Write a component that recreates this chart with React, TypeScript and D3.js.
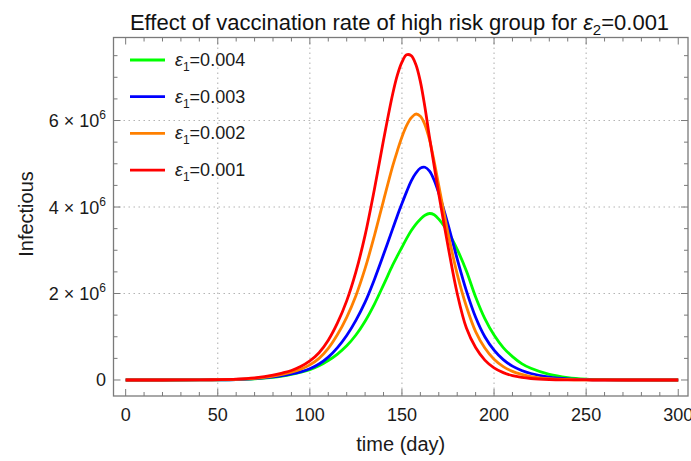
import React from "react";
import * as d3 from "d3";

// time samples (days) shared by every series, denser around the peaks
const days = [
  0, 20, 40, 50, 60, 70, 80, 85, 90, 95,
  100, 105, 110, 115, 120, 125, 130, 135, 140, 145,
  147.5, 150, 152.5, 155, 157.5, 160, 162.5, 165, 167.5, 170,
  175, 180, 185, 190, 195, 200, 205, 210, 215, 220,
  230, 240, 250, 260, 280, 300,
];

// infectious, in millions
const eps004 = [
  0, 0, 0.001, 0.004, 0.01, 0.025, 0.06, 0.09, 0.13, 0.18,
  0.24, 0.33, 0.45, 0.6, 0.79, 1.04, 1.36, 1.75, 2.2, 2.66,
  2.87, 3.07, 3.27, 3.45, 3.6, 3.72, 3.81, 3.85, 3.82, 3.72,
  3.42, 3.02, 2.52, 1.92, 1.42, 1.04, 0.75, 0.54, 0.38, 0.27,
  0.13, 0.057, 0.022, 0.008, 0.001, 0,
];
const eps003 = [
  0, 0, 0.002, 0.005, 0.012, 0.03, 0.07, 0.1, 0.14, 0.19,
  0.26, 0.37, 0.53, 0.75, 1.03, 1.38, 1.8, 2.32, 2.9, 3.5,
  3.8, 4.08, 4.35, 4.6, 4.78, 4.9, 4.92, 4.83, 4.62, 4.32,
  3.6, 2.8, 2.06, 1.45, 1.0, 0.69, 0.47, 0.32, 0.22, 0.15,
  0.065, 0.025, 0.009, 0.003, 0, 0,
];
const eps002 = [
  0, 0, 0.002, 0.006, 0.015, 0.04, 0.09, 0.13, 0.18, 0.25,
  0.35, 0.5, 0.73, 1.05, 1.45, 1.95, 2.58, 3.33, 4.15, 4.95,
  5.3, 5.62, 5.88, 6.06, 6.15, 6.1, 5.9, 5.55, 5.05, 4.5,
  3.4, 2.45, 1.7, 1.12, 0.74, 0.48, 0.31, 0.2, 0.13, 0.08,
  0.03, 0.011, 0.004, 0.001, 0, 0,
];
const eps001 = [
  0, 0, 0.003, 0.008, 0.02, 0.05, 0.11, 0.16, 0.22, 0.31,
  0.44, 0.63, 0.92, 1.32, 1.83, 2.5, 3.35, 4.4, 5.55, 6.62,
  7.05, 7.35, 7.52, 7.5, 7.3, 6.9, 6.3, 5.6, 4.95, 4.3,
  3.1, 2.0, 1.2, 0.75, 0.46, 0.28, 0.17, 0.1, 0.06, 0.035,
  0.012, 0.004, 0.001, 0, 0, 0,
];

const seriesNames = ["0.004", "0.003", "0.002", "0.001"];
const seriesValues = [eps004, eps003, eps002, eps001];
const seriesColors = ["#00ff00", "#0000ff", "#ff8000", "#ff0000"];

const xTicks = [0, 50, 100, 150, 200, 250, 300];
const yTicks = [0, 2, 4, 6];

const W = 691;
const H = 461;
const FONT = "'Liberation Sans', Arial, sans-serif";

export default function App() {
  const x = d3.scaleLinear().domain([-6.6, 305.3]).range([113.5, 688]);
  const y = d3.scaleLinear().domain([-0.37, 7.92]).range([396, 37.5]);
  const [x0, x1] = x.range();
  const [y0, y1] = y.range();

  const line = d3
    .line<number>()
    .x((_, i) => x(days[i]))
    .y((d) => y(d))
    .curve(d3.curveCatmullRom.alpha(0.5));

  // minor ticks every 10 days / half a million
  const xMinor = d3.range(0, 301, 10).filter((v) => v % 50 !== 0);
  const yMinor = d3.range(0, 7.9, 0.5).filter((v) => v % 2 !== 0);

  const frameColor = "#7a7a7a";
  const major = 7;
  const minor = 4;

  return (
    <svg
      width={W}
      height={H}
      style={{ position: "absolute", left: 0, top: 0, background: "#fff" }}
      fontFamily={FONT}
    >
      {/* grid */}
      <g stroke="#b4b4b4" strokeWidth={1.1} strokeDasharray="1.5,3.5">
        {xTicks
          .filter((v) => v > 0 && v < 300)
          .map((v) => (
            <line key={"gx" + v} x1={x(v)} x2={x(v)} y1={y1} y2={y0} />
          ))}
        {yTicks
          .filter((v) => v > 0)
          .map((v) => (
            <line key={"gy" + v} x1={x0} x2={x1} y1={y(v)} y2={y(v)} />
          ))}
      </g>

      {/* curves */}
      <g fill="none" strokeWidth={2.8} strokeLinejoin="round">
        {seriesValues.map((vals, i) => (
          <path key={seriesNames[i]} d={line(vals) || ""} stroke={seriesColors[i]} />
        ))}
      </g>

      {/* frame + ticks */}
      <rect x={x0} y={y1} width={x1 - x0} height={y0 - y1} fill="none" stroke={frameColor} strokeWidth={1.3} />
      <g stroke={frameColor} strokeWidth={1}>
        {xTicks.map((v) => (
          <g key={"tx" + v}>
            <line x1={x(v)} x2={x(v)} y1={y0} y2={y0 - major} />
            <line x1={x(v)} x2={x(v)} y1={y1} y2={y1 + major} />
          </g>
        ))}
        {xMinor.map((v) => (
          <g key={"mx" + v}>
            <line x1={x(v)} x2={x(v)} y1={y0} y2={y0 - minor} />
            <line x1={x(v)} x2={x(v)} y1={y1} y2={y1 + minor} />
          </g>
        ))}
        {yTicks.map((v) => (
          <g key={"ty" + v}>
            <line x1={x0} x2={x0 + major} y1={y(v)} y2={y(v)} />
            <line x1={x1} x2={x1 - major} y1={y(v)} y2={y(v)} />
          </g>
        ))}
        {yMinor.map((v) => (
          <g key={"my" + v}>
            <line x1={x0} x2={x0 + minor} y1={y(v)} y2={y(v)} />
            <line x1={x1} x2={x1 - minor} y1={y(v)} y2={y(v)} />
          </g>
        ))}
      </g>

      {/* tick labels */}
      <g fontSize={18} fill="#1a1a1a">
        {xTicks.map((v) => (
          <text key={"lx" + v} x={x(v)} y={421} textAnchor="middle">
            {v}
          </text>
        ))}
        {yTicks.map((v) =>
          v === 0 ? (
            <text key={"ly" + v} x={106} y={y(v) + 6.5} textAnchor="end">
              0
            </text>
          ) : (
            <text key={"ly" + v} x={106} y={y(v) + 6.5} textAnchor="end">
              {`${v} \u00d7 10`}
              <tspan fontSize={12} dy={-8}>
                6
              </tspan>
            </text>
          )
        )}
      </g>

      {/* axis labels */}
      <text x={(x0 + x1) / 2} y={451} textAnchor="middle" fontSize={20} fill="#1a1a1a">
        time (day)
      </text>
      <text
        transform={`translate(33,214) rotate(-90)`}
        textAnchor="middle"
        fontSize={20}
        fill="#1a1a1a"
      >
        Infectious
      </text>

      {/* title */}
      <text x={399.5} y={30} textAnchor="middle" fontSize={22} fill="#111">
        Effect of vaccination rate of high risk group for{" "}
        <tspan fontStyle="italic">ε</tspan>
        <tspan fontSize={15} dy={5}>
          2
        </tspan>
        <tspan dy={-5}>=0.001</tspan>
      </text>

      {/* legend */}
      <g>
        {seriesNames.map((name, i) => {
          const ry = 60 + i * 36.7;
          return (
            <g key={"lg" + name}>
              <line x1={130} x2={165} y1={ry} y2={ry} stroke={seriesColors[i]} strokeWidth={2.8} />
              <text x={175} y={ry + 6} fontSize={18} fill="#1a1a1a">
                <tspan fontStyle="italic">ε</tspan>
                <tspan fontSize={12} dy={5}>
                  1
                </tspan>
                <tspan dy={-5}>{`=${name}`}</tspan>
              </text>
            </g>
          );
        })}
      </g>
    </svg>
  );
}
